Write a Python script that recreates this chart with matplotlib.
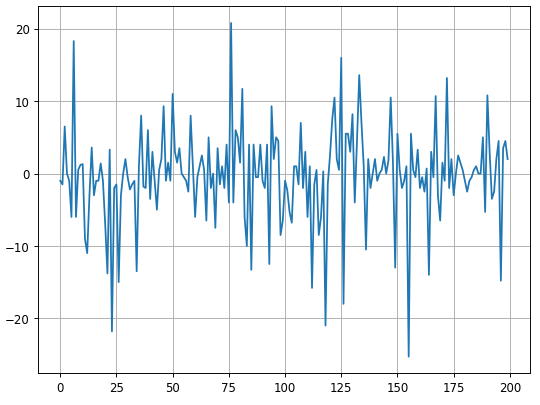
import matplotlib
matplotlib.use('Agg')
import matplotlib.pyplot as plt
import numpy as np

# Values, index 0..199
values = [
    -1, -1.5, 6.5, 0, -1, -6, 18.3, -6, 0.5, 1.2,
    1.3, -9, -11, -3, 3.6, -3, -1, -1, 1.4, -1,
    -7, -13.8, 3.3, -21.8, -2, -1.5, -15, -3, 0, 2,
    -0.5, -2.2, -1.5, -1, -13.5, 1, 8, -1.8, -2, 6,
    -3.5, 3, -1, -5, 0.5, 2, 9.3, -1, 1.5, -1,
    11, 3, 1.5, 3.5, 0, -0.5, -1, -2.5, 8, 1,
    -6, -0.5, 1, 2.5, 0.5, -6.5, 5, -2, 0, -7.5,
    3.5, -1.5, 1, -2, 4, -4, 20.8, -4, 6, 5,
    1.5, 11.7, -6, -10, 4, -13.3, 4, -0.5, -0.5, 4,
    -1, -2, 4, -12.5, 9.3, 2, 5, 4.5, -8.5, -6.5,
    -1, -2.3, -5.3, -6.8, 1, 1, -1.5, 7, -2, 3,
    -6, 1, -15.8, -1.5, 0.5, -8.5, -6, 0.3, -21, -1.5,
    2.5, 7.5, 10.5, 2, 0.5, 16, -18, 5.5, 5.5, 3,
    8.2, -4, 4.5, 13.6, 7, 1, -10.5, 2, -2, 0,
    2, -1, 0, 0.5, 2.3, 0, 1.8, 10.5, 1.5, -13,
    5.5, 0.5, -2, -1, 1, -25.3, 5.5, 0.5, -0.5, 3.3,
    -2, -0.5, -2.5, 0.7, -14, 3, -0.5, 10.7, -3, -6.5,
    1.5, -1, 13.2, -2, 2, -3, 0, 2.5, 1.5, 0.5,
    -1, -2.5, -1, -0.5, 0.5, 1, 0, 0, 5, -5.3,
    10.8, 3, -3.5, -2.5, 2, 4.5, -14.8, 3.5, 4.5, 2,
]
x = np.arange(len(values))

plt.figure(figsize=(6.4, 4.8), dpi=84.5)
plt.plot(x, values, color='#1f77b4', linewidth=1.5)
plt.grid(True)
plt.subplots_adjust(left=0.07, right=0.98, top=0.983, bottom=0.078)
plt.savefig('out.png')
